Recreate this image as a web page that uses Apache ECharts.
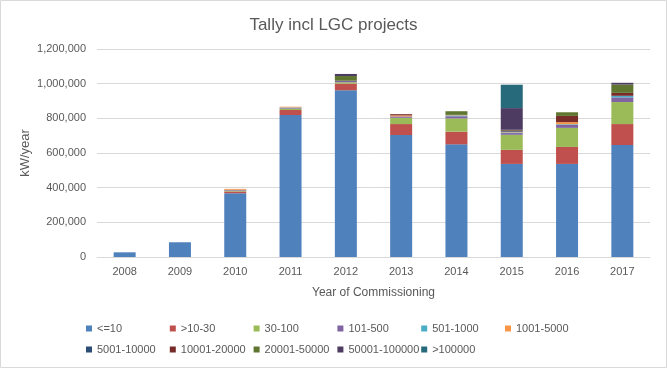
<!DOCTYPE html>
<html><head><meta charset="utf-8">
<script src="https://cdn.jsdelivr.net/npm/echarts@6/dist/echarts.min.js"></script>
<style>html,body{margin:0;padding:0;background:#fff}#c{width:667px;height:368px}</style>
</head><body><div id="c"></div>
<script>
const years = ['2008','2009','2010','2011','2012','2013','2014','2015','2016','2017'];
const yTicks = [0, 200000, 400000, 600000, 800000, 1000000, 1200000];
const seriesNames = ['<=10','>10-30','30-100','101-500','501-1000','1001-5000','5001-10000','10001-20000','20001-50000','50001-100000','>100000'];
const s_le10        = [27000, 85000, 368000, 819000, 962000, 704000, 650000, 537000, 537000, 646000];
const s_10_30       = [0, 0, 10000, 29000, 38000, 63000, 73000, 81000, 98000, 121000];
const s_30_100      = [0, 0, 5000, 8000, 8000, 36000, 77000, 87000, 110000, 127000];
const s_101_500     = [0, 0, 5000, 5000, 9000, 8000, 12000, 10000, 17000, 27000];
const s_501_1000    = [0, 0, 0, 2000, 0, 0, 5000, 4000, 4000, 9000];
const s_1001_5000   = [0, 0, 5000, 4000, 0, 6000, 3000, 3000, 12000, 0];
const s_5001_10000  = [0, 0, 0, 0, 0, 0, 0, 4000, 0, 0];
const s_10001_20000 = [0, 0, 0, 0, 0, 7000, 0, 5000, 36000, 17000];
const s_20001_50000 = [0, 0, 0, 0, 27000, 0, 21000, 3000, 21000, 48000];
const s_50001_100000= [0, 0, 0, 0, 12000, 0, 0, 125000, 0, 10000];
const s_gt100000    = [0, 0, 0, 0, 0, 0, 0, 135000, 0, 0];
const allSeries = [s_le10, s_10_30, s_30_100, s_101_500, s_501_1000, s_1001_5000, s_5001_10000, s_10001_20000, s_20001_50000, s_50001_100000, s_gt100000];
const colors = ['#4F81BD','#C0504D','#9BBB59','#8064A2','#4BACC6','#F79646','#2C4D75','#772C2A','#5F7530','#4D3B62','#276A7C'];

const font = '"Liberation Sans",Arial,sans-serif';
const chart = echarts.init(document.getElementById('c'), null, {renderer:'canvas'});
const legends = seriesNames.map((n, i) => ({
  data: [n], top: i < 6 ? 318 : 339, left: 81 + (i % 6) * 83.8, orient: 'horizontal',
  icon: 'rect', itemWidth: 6, itemHeight: 6,
  textStyle: {color:'#595959', fontSize: 11, fontFamily: font},
  selectedMode: false
}));
chart.setOption({
  animation: false,
  color: colors,
  title: {text: 'Tally incl LGC projects', left: 'center', top: 12,
    textStyle: {color:'#595959', fontSize: 17, fontWeight: 'normal', fontFamily: font}},
  graphic: [{type:'rect', shape:{x:0.5,y:0.5,width:666,height:367}, style:{fill:'none', stroke:'#d9d9d9', lineWidth:1}, silent:true}],
  legend: legends,
  grid: {left: 97, right: 17, top: 49, bottom: 111, containLabel: false, outerBoundsMode: 'none'},
  xAxis: {type:'category', data: years,
    name: 'Year of Commissioning', nameLocation: 'middle', nameGap: 30, nameMoveOverlap: false,
    nameTextStyle: {color:'#595959', fontSize: 12, fontFamily: font},
    axisLine: {lineStyle:{color:'#d9d9d9'}}, axisTick: {show:false},
    axisLabel: {color:'#595959', fontSize: 11, fontFamily: font, margin: 9}},
  yAxis: {type:'value', min: yTicks[0], max: yTicks[yTicks.length-1], interval: yTicks[1]-yTicks[0],
    name: 'kW/year', nameLocation: 'middle', nameGap: 65, nameRotate: 90, nameMoveOverlap: false,
    nameTextStyle: {color:'#595959', fontSize: 13, fontFamily: font},
    axisLine: {show:false}, axisTick: {show:false},
    splitLine: {lineStyle:{color:'#d9d9d9'}},
    axisLabel: {color:'#595959', fontSize: 11, fontFamily: font, margin: 11,
      formatter: v => v.toLocaleString('en-US')}},
  series: seriesNames.map((n,i) => ({
    name: n, type: 'bar', stack: 'total', data: allSeries[i], barWidth: 22,
    itemStyle: {color: colors[i]}
  }))
});
</script></body></html>
